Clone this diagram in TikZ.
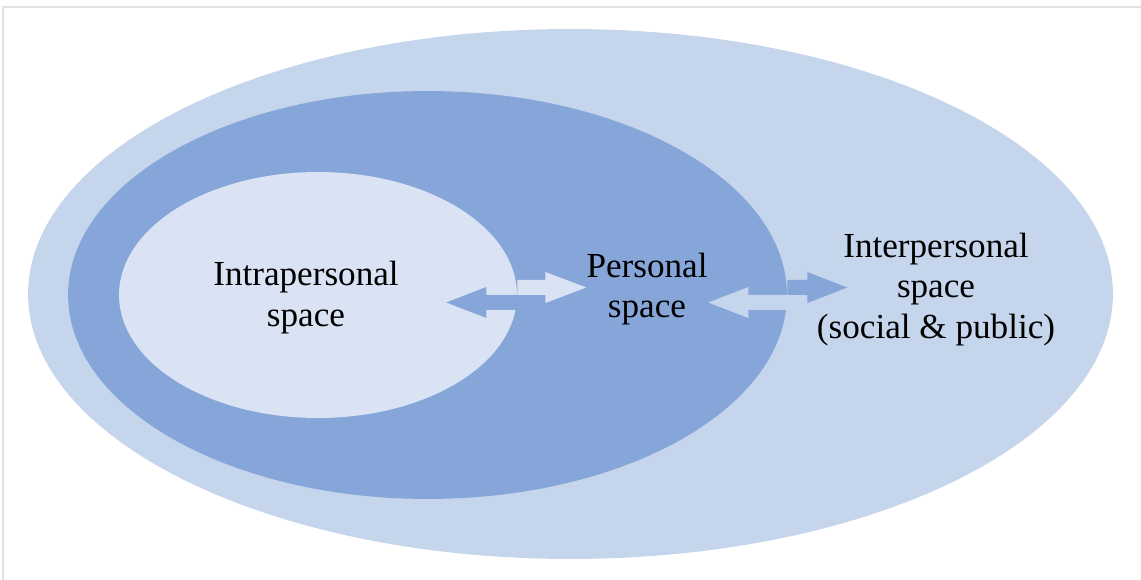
\documentclass[tikz,border=0pt]{standalone}
\usepackage{fontspec}
\setmainfont{Liberation Serif}
\usepackage{tikz}
\usetikzlibrary{shapes.geometric,positioning,calc}
\usepackage{xcolor}
\definecolor{cOuter}{RGB}{197,213,236}
\definecolor{cMid}{RGB}{134,165,217}
\definecolor{cInner}{RGB}{218,227,243}
\definecolor{cFrame}{RGB}{225,225,225}
\tikzset{
  zone/.style={ellipse,draw=none,inner sep=0pt},
  outerzone/.style={zone,fill=cOuter,minimum width=21.7cm,minimum height=10.6cm},
  midzone/.style={zone,fill=cMid,minimum width=14.38cm,minimum height=8.16cm},
  innerzone/.style={zone,fill=cInner,minimum width=7.96cm,minimum height=4.92cm},
  lbl/.style={align=center,inner sep=0pt,font=\fontsize{20}{23.2}\selectfont},
  blockarr/.style={draw=none}
}
\begin{document}
\begin{tikzpicture}[x=0.02cm,y=-0.02cm]
  \useasboundingbox (0,0) rectangle (1141,580);
  \draw[cFrame,line width=0.6pt] (1141,7) -- (3,7) -- (3,580);

  \node[outerzone] (outer) at (570.5,294) {};
  \node[midzone]   (mid)   at (427.5,295) {};
  \node[innerzone] (inner) at (318,295) {};

  % arrows between intrapersonal and personal space
  \fill[blockarr,cInner] (inner.east) -- ++(0,-15) -- ++(28,0) -- ++(0,-8)
      -- ++(41,15.5) -- ++(-41,15.5) -- ++(0,-8) -- cycle;
  \fill[blockarr,cMid] (inner.east) -- ++(0,15) -- ++(-31,0) -- ++(0,8)
      -- ++(-40,-15.5) -- ++(40,-15.5) -- ++(0,8) -- cycle;

  % arrows between personal and interpersonal space
  \fill[blockarr,cMid] (mid.east) -- ++(0,-15) -- ++(20,0) -- ++(0,-8)
      -- ++(40,15.5) -- ++(-40,15.5) -- ++(0,-8) -- cycle;
  \fill[blockarr,cOuter] (mid.east) -- ++(0,15) -- ++(-39,0) -- ++(0,8)
      -- ++(-40,-15.5) -- ++(40,-15.5) -- ++(0,8) -- cycle;

  \node[lbl] (intra) at (306,297.5) {Intrapersonal\\space};
  \node[lbl] (pers)  at (647,289)   {Personal\\space};
  \node[lbl] (inter) at (936,289.5) {Interpersonal\\space\\(social \& public)};
\end{tikzpicture}
\end{document}
